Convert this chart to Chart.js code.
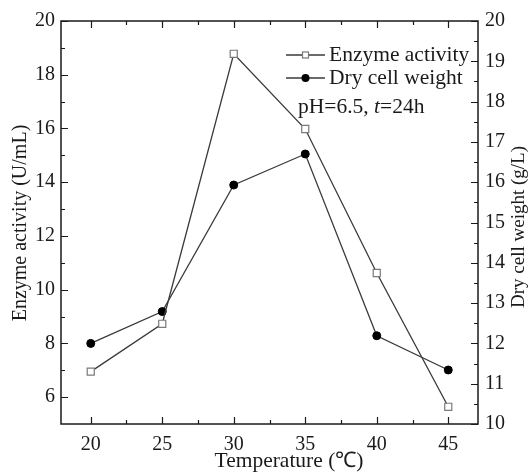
<!DOCTYPE html>
<html>
<head>
<meta charset="utf-8">
<script src="https://cdn.jsdelivr.net/npm/chart.js@4/dist/chart.umd.min.js"></script>
<style>
  html, body { margin: 0; padding: 0; background: #fff; }
  canvas { display: block; }
</style>
</head>
<body>
<canvas id="tempChart" width="529" height="476"></canvas>
<script>
// Effect of temperature on enzyme activity and dry cell weight
const temperatures = [20, 25, 30, 35, 40, 45];
const enzymeActivity = [6.95, 8.73, 18.78, 15.98, 10.62, 5.64];  // U/mL
const dryCellWeight = [12.0, 12.79, 15.93, 16.70, 12.19, 11.34]; // g/L

const xTicks = [20, 25, 30, 35, 40, 45];
const leftTicks = [6, 8, 10, 12, 14, 16, 18, 20];
const rightTicks = [10, 11, 12, 13, 14, 15, 16, 17, 18, 19, 20];

const seriesLabels = ['Enzyme activity', 'Dry cell weight'];
const axisTitles = { x: 'Temperature (\u2103)', y: 'Enzyme activity (U/mL)', y2: 'Dry cell weight (g/L)' };

const FONT = "'Liberation Serif', 'Times New Roman', serif";
const INK = '#1a1a1a';

function midpoints(arr) {
  const out = [];
  for (let i = 1; i < arr.length; i++) out.push((arr[i - 1] + arr[i]) / 2);
  return out;
}

function toPoints(ys) {
  return temperatures.map((t, i) => ({ x: t, y: ys[i] }));
}

function fixTicks(list) {
  return (scale) => { scale.ticks = list.map((v) => ({ value: v })); };
}

// box around the plot with inward ticks on all four sides
const framePlugin = {
  id: 'frame',
  beforeDatasetsDraw(chart) {
    const { ctx, chartArea: a, scales } = chart;
    ctx.save();
    ctx.strokeStyle = INK;
    ctx.lineWidth = 1.5;
    ctx.strokeRect(a.left, a.top, a.right - a.left, a.bottom - a.top);

    ctx.lineWidth = 1.2;
    ctx.beginPath();
    const xt = (vals, len) => vals.forEach((v) => {
      const px = Math.round(scales.x.getPixelForValue(v)) + 0.5;
      ctx.moveTo(px, a.bottom); ctx.lineTo(px, a.bottom - len);
      ctx.moveTo(px, a.top); ctx.lineTo(px, a.top + len);
    });
    const yl = (vals, len) => vals.forEach((v) => {
      const py = Math.round(scales.y.getPixelForValue(v)) + 0.5;
      ctx.moveTo(a.left, py); ctx.lineTo(a.left + len, py);
    });
    const yr = (vals, len) => vals.forEach((v) => {
      const py = Math.round(scales.y2.getPixelForValue(v)) + 0.5;
      ctx.moveTo(a.right, py); ctx.lineTo(a.right - len, py);
    });
    xt(xTicks, 7); xt(midpoints(xTicks), 4);
    yl(leftTicks, 7); yl(midpoints(leftTicks), 4);
    yr(rightTicks, 7); yr(midpoints(rightTicks), 4);
    ctx.stroke();
    ctx.restore();
  }
};

// axis titles, legend and culture conditions
const textPlugin = {
  id: 'texts',
  afterDraw(chart) {
    const { ctx, chartArea: a } = chart;
    ctx.save();
    ctx.fillStyle = INK;
    ctx.textBaseline = 'middle';
    ctx.textAlign = 'center';

    ctx.font = `21.5px ${FONT}`;
    ctx.fillText(axisTitles.x, 289, 461);

    ctx.font = `20px ${FONT}`;
    ctx.save();
    ctx.translate(21, 223);
    ctx.rotate(-Math.PI / 2);
    ctx.fillText(axisTitles.y, 0, 0);
    ctx.restore();

    ctx.font = `19px ${FONT}`;
    ctx.save();
    ctx.translate(519, 227);
    ctx.rotate(-Math.PI / 2);
    ctx.fillText(axisTitles.y2, 0, 0);
    ctx.restore();

    // legend
    ctx.font = `21.5px ${FONT}`;
    const x0 = a.right - 192, x1 = a.right - 153, tx = a.right - 149;
    const rows = [a.top + 34, a.top + 57];
    chart.data.datasets.forEach((ds, i) => {
      const y = rows[i];
      ctx.strokeStyle = ds.borderColor;
      ctx.lineWidth = ds.borderWidth;
      ctx.beginPath();
      ctx.moveTo(x0, y); ctx.lineTo(x1, y);
      ctx.stroke();
      const cx = (x0 + x1) / 2;
      if (ds.pointStyle === 'rect') {
        ctx.fillStyle = '#fff';
        ctx.strokeStyle = ds.pointBorderColor;
        ctx.lineWidth = ds.pointBorderWidth;
        ctx.fillRect(cx - 3, y - 3, 6, 6);
        ctx.strokeRect(cx - 3, y - 3, 6, 6);
      } else {
        ctx.fillStyle = ds.pointBackgroundColor;
        ctx.beginPath();
        ctx.arc(cx, y, 4, 0, Math.PI * 2);
        ctx.fill();
      }
      ctx.fillStyle = INK;
      ctx.textAlign = 'left';
      ctx.fillText(ds.label, tx, y);
    });

    // pH=6.5, t=24h  (t in italics)
    let nx = a.right - 180;
    const ny = a.top + 86;
    const parts = [['pH=6.5, ', false], ['t', true], ['=24h', false]];
    parts.forEach(([s, it]) => {
      ctx.font = `${it ? 'italic ' : ''}21.5px ${FONT}`;
      ctx.fillText(s, nx, ny);
      nx += ctx.measureText(s).width;
    });
    ctx.restore();
  }
};

const tickFont = { family: FONT, size: 20 };

new Chart(document.getElementById('tempChart'), {
  type: 'line',
  data: {
    datasets: [
      {
        label: seriesLabels[0],
        data: toPoints(enzymeActivity),
        yAxisID: 'y',
        borderColor: '#3a3a3a',
        borderWidth: 1.3,
        pointStyle: 'rect',
        pointRadius: 5,
        pointBorderColor: '#7a7a7a',
        pointBorderWidth: 1.2,
        pointBackgroundColor: '#fff',
        tension: 0,
      },
      {
        label: seriesLabels[1],
        data: toPoints(dryCellWeight),
        yAxisID: 'y2',
        borderColor: '#3a3a3a',
        borderWidth: 1.3,
        pointStyle: 'circle',
        pointRadius: 4,
        pointBorderColor: '#000',
        pointBorderWidth: 1,
        pointBackgroundColor: '#000',
        tension: 0,
      },
    ],
  },
  options: {
    responsive: false,
    animation: false,
    devicePixelRatio: 1,
    layout: { padding: { top: 21, left: 0, right: 0, bottom: 0 } },
    plugins: { legend: { display: false }, tooltip: { enabled: false } },
    scales: {
      x: {
        type: 'linear',
        min: 17.92,
        max: 47.08,
        afterBuildTicks: fixTicks(xTicks),
        afterFit: (s) => { s.height = 52; },
        grid: { display: false, drawTicks: false },
        border: { display: false },
        ticks: { font: tickFont, color: INK, padding: 9, maxRotation: 0 },
      },
      y: {
        position: 'left',
        min: 5,
        max: 20,
        afterBuildTicks: fixTicks(leftTicks),
        afterFit: (s) => { s.width = 61; },
        grid: { display: false, drawTicks: false },
        border: { display: false },
        ticks: { font: tickFont, color: INK, padding: 6 },
      },
      y2: {
        position: 'right',
        min: 10,
        max: 20,
        afterBuildTicks: fixTicks(rightTicks),
        afterFit: (s) => { s.width = 51; },
        grid: { display: false, drawTicks: false },
        border: { display: false },
        ticks: { font: tickFont, color: INK, padding: 7 },
      },
    },
  },
  plugins: [framePlugin, textPlugin],
});
</script>
</body>
</html>
